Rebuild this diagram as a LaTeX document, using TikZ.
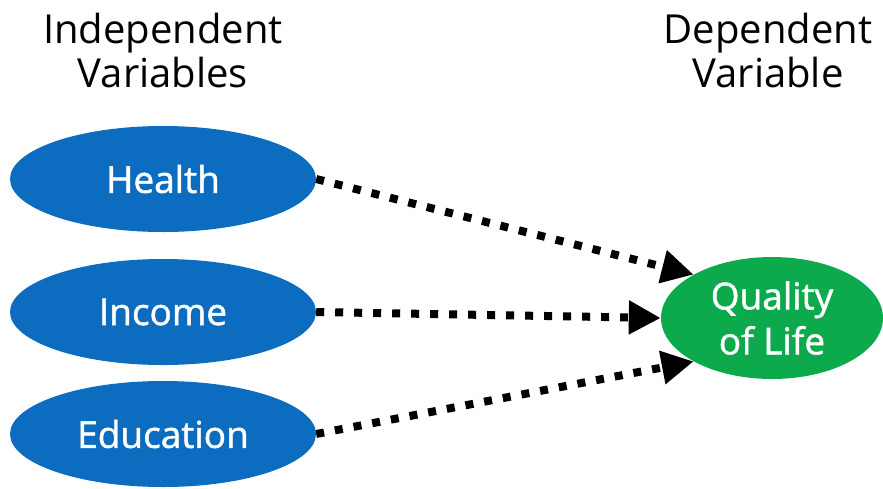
\documentclass[tikz,border=0pt]{standalone}
\usepackage{fontspec}
\setmainfont{Open Sans}
\newfontfamily\varfont[FakeBold=1.3]{Open Sans}
\usetikzlibrary{shapes.geometric,arrows.meta}

\definecolor{varblue}{RGB}{12,108,192}
\definecolor{vargreen}{RGB}{12,170,76}

\tikzset{
  indvar/.style={ellipse, fill=varblue, text=white, inner sep=0pt,
    minimum width=306pt, minimum height=106pt,
    font=\varfont\fontsize{37}{40}\selectfont},
  depvar/.style={ellipse, fill=vargreen, text=white, inner sep=0pt,
    minimum width=222pt, minimum height=122pt, align=center,
    font=\varfont\fontsize{37}{45}\selectfont},
  heading/.style={align=center, font=\fontsize{40}{44}\selectfont},
  effect/.style={line width=8pt, dash pattern=on 8pt off 11pt,
    -{Triangle[length=32pt,width=32pt]}}
}

\begin{document}
\begin{tikzpicture}[x=1pt,y=-1pt]

\useasboundingbox (0,0) rectangle (883,488);

% headings
\node[heading] (indhead) at (163,50) {Independent\\Variables};
\node[heading] (dephead) at (768,50) {Dependent\\Variable};

% variables
\node[indvar] (health) at (163,179) {Health};
\node[indvar] (income) at (163,312) {Income};
\node[indvar] (educ) at (163,434) {Education};

\node[depvar] (qol) at (772,318) {Quality\\of Life};

% arrows
\draw[effect] (health.east) -- (qol.151);
\draw[effect] (income.east) -- (qol.west);
\draw[effect] (educ.east) -- (qol.209);

\end{tikzpicture}
\end{document}
